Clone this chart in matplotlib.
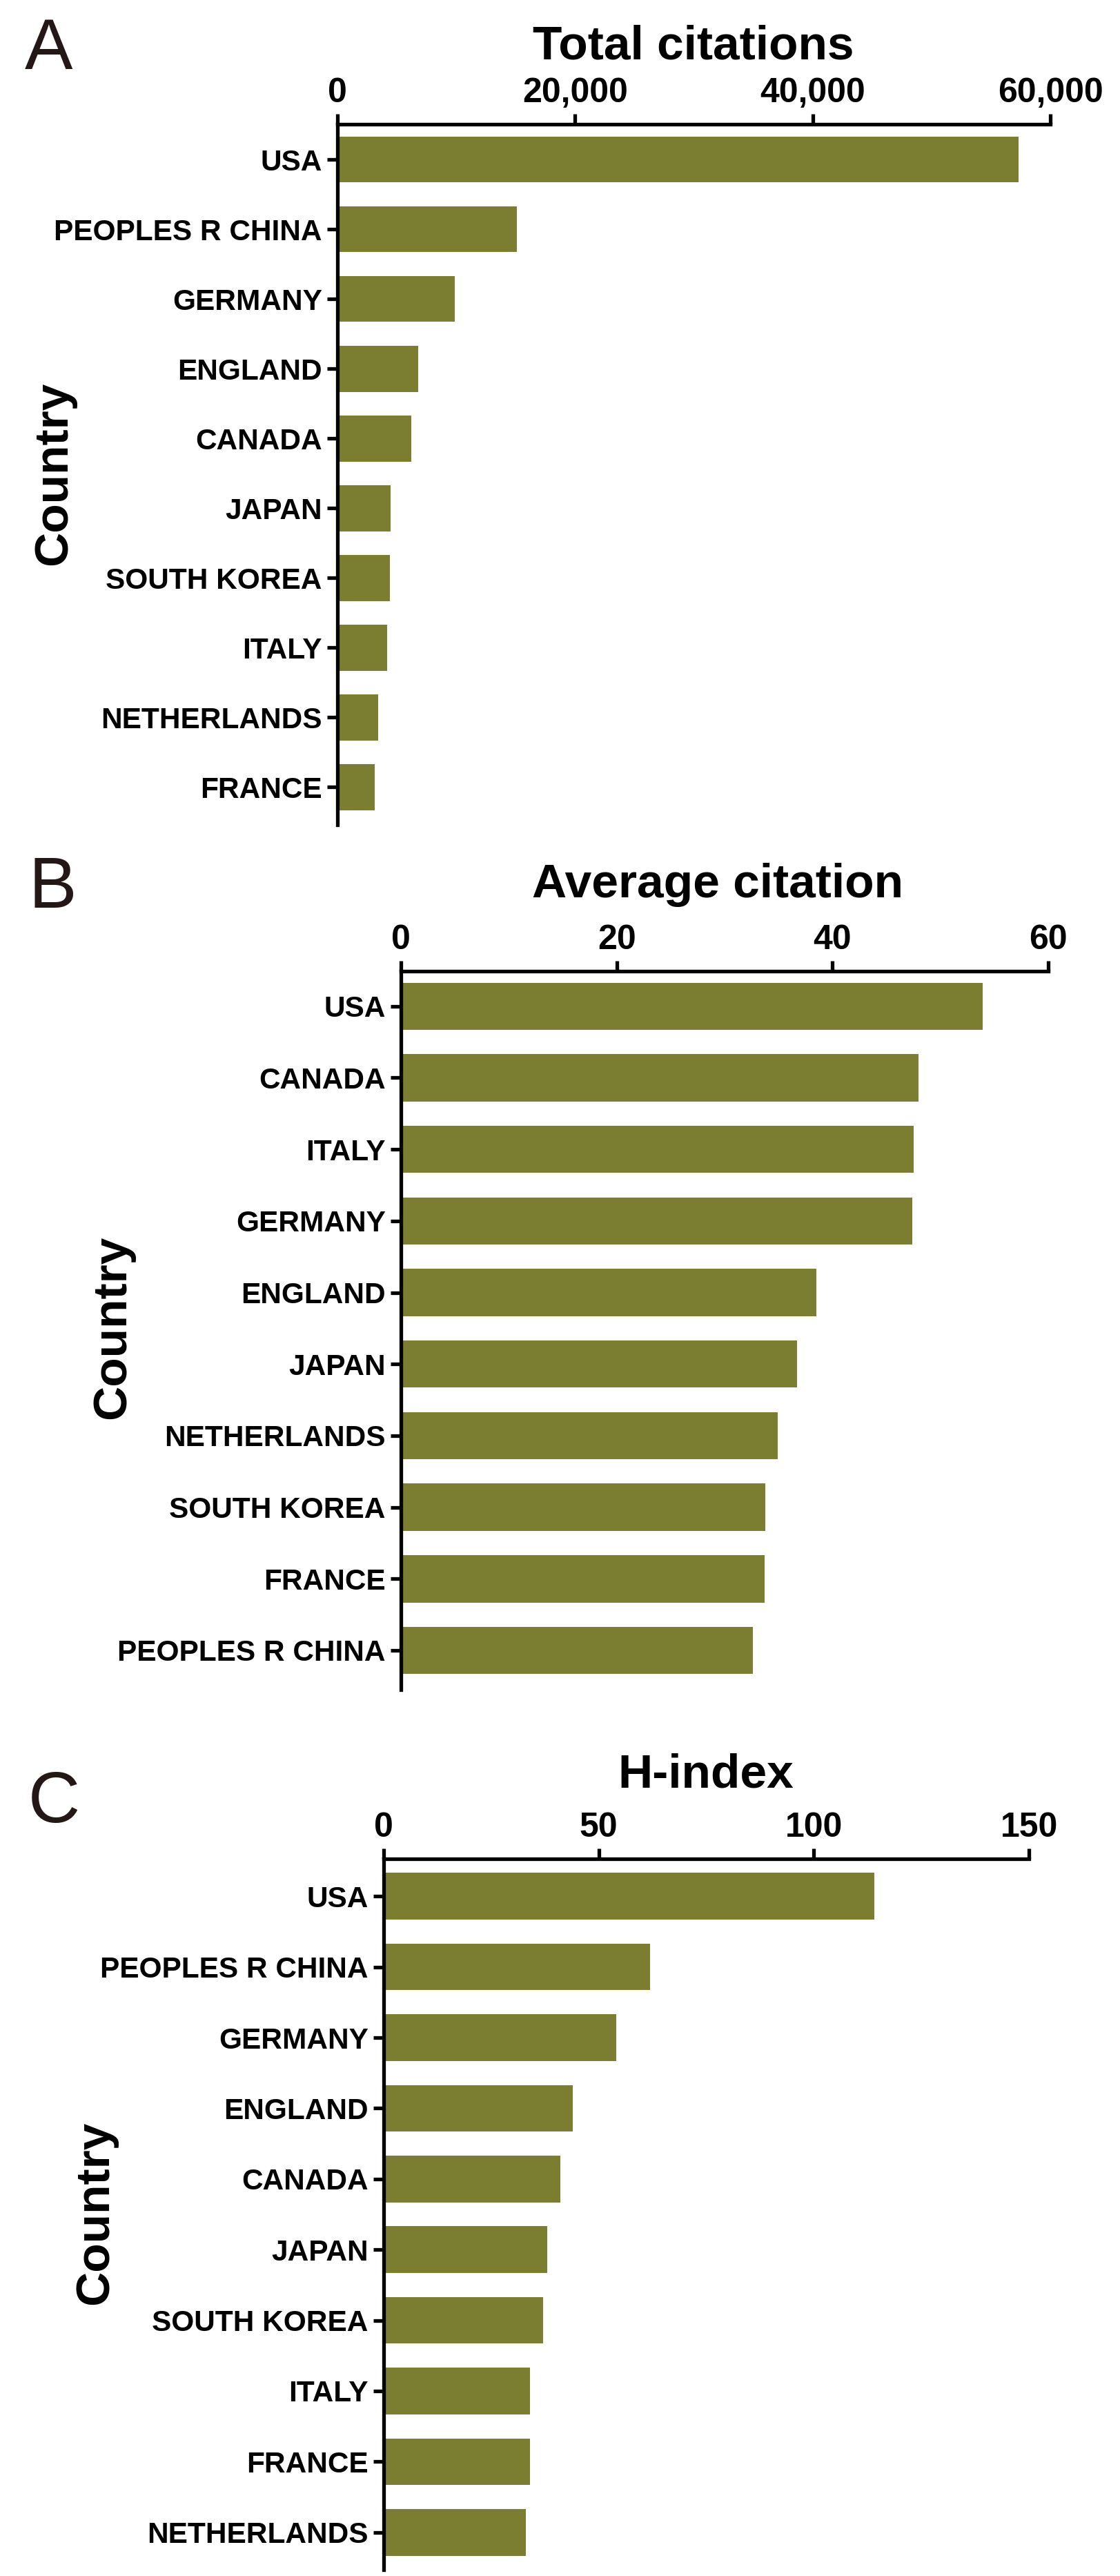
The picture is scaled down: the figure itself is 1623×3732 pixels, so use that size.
import matplotlib
matplotlib.use("Agg")
import matplotlib.pyplot as plt

plt.rcParams['font.family'] = ['Liberation Sans', 'DejaVu Sans']

# ---------------- data ----------------
countries_a = ["USA", "PEOPLES R CHINA", "GERMANY", "ENGLAND", "CANADA",
               "JAPAN", "SOUTH KOREA", "ITALY", "NETHERLANDS", "FRANCE"]
total_citations = [57300, 15100, 9900, 6800, 6200, 4500, 4400, 4200, 3400, 3150]
ticks_a = [0, 20000, 40000, 60000]
ticklabels_a = ["0", "20,000", "40,000", "60,000"]

countries_b = ["USA", "CANADA", "ITALY", "GERMANY", "ENGLAND",
               "JAPAN", "NETHERLANDS", "SOUTH KOREA", "FRANCE", "PEOPLES R CHINA"]
average_citation = [53.9, 48.0, 47.5, 47.4, 38.5, 36.7, 34.9, 33.8, 33.7, 32.6]
ticks_b = [0, 20, 40, 60]
ticklabels_b = ["0", "20", "40", "60"]

countries_c = ["USA", "PEOPLES R CHINA", "GERMANY", "ENGLAND", "CANADA",
               "JAPAN", "SOUTH KOREA", "ITALY", "FRANCE", "NETHERLANDS"]
h_index = [114, 62, 54, 44, 41, 38, 37, 34, 34, 33]
ticks_c = [0, 50, 100, 150]
ticklabels_c = ["0", "50", "100", "150"]

titles = ["Total citations", "Average citation", "H-index"]
letters = ["A", "B", "C"]

# ---------------- layout ----------------
W, H = 1623, 3732
BAR_COLOR = "#7B7D30"
fig = plt.figure(figsize=(W / 100, H / 100), dpi=100)
fig.patch.set_facecolor("white")


def box(l, r, t, b):
    return [l / W, 1 - b / H, (r - l) / W, (b - t) / H]


panels = [
    dict(cats=countries_a, vals=total_citations, ticks=ticks_a, tl=ticklabels_a,
         xmax=60000, rect=box(489, 1522, 180, 1195), ylim=(9.54, -0.505),
         title_xy=(1005, 85), letter_xy=(36, 100), ylab_xy=(78, 686)),
    dict(cats=countries_b, vals=average_citation, ticks=ticks_b, tl=ticklabels_b,
         xmax=60, rect=box(581, 1519, 1407, 2448), ylim=(9.55, -0.49),
         title_xy=(1040, 1300), letter_xy=(41, 1315), ylab_xy=(163, 1923)),
    dict(cats=countries_c, vals=h_index, ticks=ticks_c, tl=ticklabels_c,
         xmax=150, rect=box(556, 1491, 2693, 3723), ylim=(9.53, -0.53),
         title_xy=(1023, 2590), letter_xy=(41, 2640), ylab_xy=(138, 3206)),
]

LW = 3.8
for i, p in enumerate(panels):
    ax = fig.add_axes(p["rect"])
    pos = list(range(len(p["cats"])))
    ax.barh(pos, p["vals"], height=0.66, color=BAR_COLOR, edgecolor="none")
    ax.set_xlim(0, p["xmax"])
    ax.set_ylim(*p["ylim"])
    ax.set_yticks(pos)
    ax.set_yticklabels(p["cats"], fontsize=30.5, fontweight="bold")
    ax.set_xticks(p["ticks"])
    ax.set_xticklabels(p["tl"], fontsize=36, fontweight="bold")
    ax.xaxis.tick_top()
    for s in ["right", "bottom"]:
        ax.spines[s].set_visible(False)
    for s in ["top", "left"]:
        ax.spines[s].set_linewidth(LW)
    ax.tick_params(axis="x", direction="out", length=11, width=LW, pad=5)
    ax.tick_params(axis="y", direction="out", length=11, width=LW, pad=5)
    ax.set_facecolor("white")

    tx, ty = p["title_xy"]
    fig.text(tx / W, 1 - ty / H, titles[i], fontsize=50, fontweight="bold",
             ha="center", va="baseline")
    lx, ly = p["letter_xy"]
    fig.text(lx / W, 1 - ly / H, letters[i], fontsize=75, fontweight="normal",
             ha="left", va="baseline", color="#231815")
    cx, cy = p["ylab_xy"]
    fig.text(cx / W, 1 - cy / H, "Country", fontsize=50, fontweight="bold",
             rotation=90, ha="center", va="center")

fig.savefig("out.png", dpi=100, facecolor="white")
